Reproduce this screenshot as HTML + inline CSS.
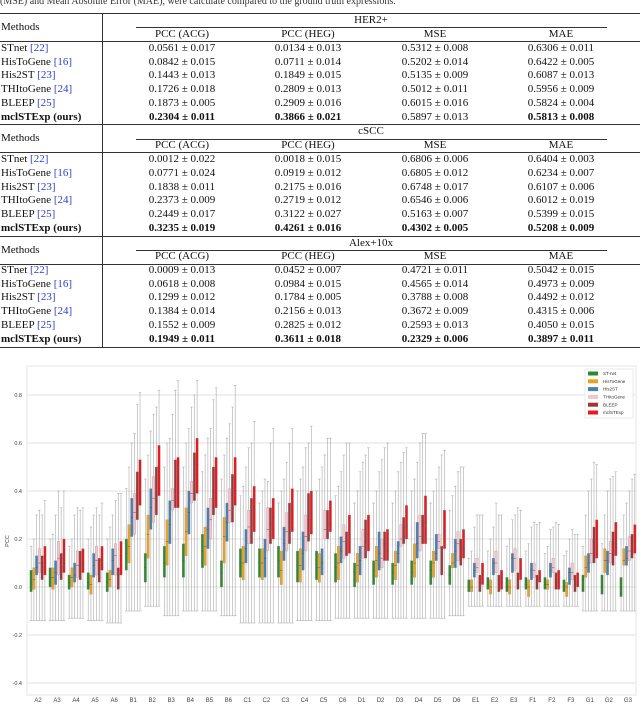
<!DOCTYPE html>
<html><head><meta charset="utf-8">
<style>
body{margin:0;width:640px;height:704px;overflow:hidden;background:#fff;font-family:"Liberation Serif",serif;color:#111;position:relative}
.a{position:absolute}
.cap{left:0;top:-4px;font-size:10px;white-space:nowrap;color:#333}
.rule{left:0;width:640px;background:#333;height:1px}
.row{position:absolute;left:0;width:640px;height:14px;line-height:14px;font-size:11px}
.row span{position:absolute;white-space:nowrap}
.m{left:1px}
.c{width:130px;text-align:center;margin-left:-65px}
.c1{left:182px}.c2{left:308px}.c3{left:435px}.c4{left:561px}
.b{font-weight:bold}
.ref{color:#2a3fd6}
</style></head><body>
<div class="a cap">(MSE) and Mean Absolute Error (MAE), were calculate compared to the ground truth expressions.</div>
<div>
<div class="a rule" style="top:13px;height:1.3px"></div>
<div class="a" style="left:102px;top:13px;width:1px;height:335px;background:#333"></div>
<!-- HER2+ -->
<div class="row" style="top:13px"><span class="m" style="top:7px">Methods</span><span class="c" style="left:371px">HER2+</span></div>
<div class="a" style="left:136px;top:27px;width:471px;height:0.8px;background:#333"></div>
<div class="row" style="top:27px"><span class="c c1">PCC (ACG)</span><span class="c c2">PCC (HEG)</span><span class="c c3">MSE</span><span class="c c4">MAE</span></div>
<div class="a rule" style="top:41px"></div>
<div class="row" style="top:41px"><span class="m">STnet <span class="ref" style="position:static">[22]</span></span><span class="c c1">0.0561 ± 0.017</span><span class="c c2">0.0134 ± 0.013</span><span class="c c3">0.5312 ± 0.008</span><span class="c c4">0.6306 ± 0.011</span></div>
<div class="row" style="top:55px"><span class="m">HisToGene <span class="ref" style="position:static">[16]</span></span><span class="c c1">0.0842 ± 0.015</span><span class="c c2">0.0711 ± 0.014</span><span class="c c3">0.5202 ± 0.014</span><span class="c c4">0.6422 ± 0.005</span></div>
<div class="row" style="top:68px"><span class="m">His2ST <span class="ref" style="position:static">[23]</span></span><span class="c c1">0.1443 ± 0.013</span><span class="c c2">0.1849 ± 0.015</span><span class="c c3">0.5135 ± 0.009</span><span class="c c4">0.6087 ± 0.013</span></div>
<div class="row" style="top:82px"><span class="m">THItoGene <span class="ref" style="position:static">[24]</span></span><span class="c c1">0.1726 ± 0.018</span><span class="c c2">0.2809 ± 0.013</span><span class="c c3">0.5012 ± 0.011</span><span class="c c4">0.5956 ± 0.009</span></div>
<div class="row" style="top:96px"><span class="m">BLEEP <span class="ref" style="position:static">[25]</span></span><span class="c c1">0.1873 ± 0.005</span><span class="c c2">0.2909 ± 0.016</span><span class="c c3">0.6015 ± 0.016</span><span class="c c4">0.5824 ± 0.004</span></div>
<div class="row" style="top:110px"><span class="m b">mclSTExp (ours)</span><span class="c c1 b">0.2304 ± 0.011</span><span class="c c2 b">0.3866 ± 0.021</span><span class="c c3">0.5897 ± 0.013</span><span class="c c4 b">0.5813 ± 0.008</span></div>
<div class="a rule" style="top:124px"></div>
<!-- cSCC -->
<div class="row" style="top:124px"><span class="m" style="top:7px">Methods</span><span class="c" style="left:371px">cSCC</span></div>
<div class="a" style="left:136px;top:139px;width:471px;height:0.8px;background:#333"></div>
<div class="row" style="top:138px"><span class="c c1">PCC (ACG)</span><span class="c c2">PCC (HEG)</span><span class="c c3">MSE</span><span class="c c4">MAE</span></div>
<div class="a rule" style="top:152px"></div>
<div class="row" style="top:152px"><span class="m">STnet <span class="ref" style="position:static">[22]</span></span><span class="c c1">0.0012 ± 0.022</span><span class="c c2">0.0018 ± 0.015</span><span class="c c3">0.6806 ± 0.006</span><span class="c c4">0.6404 ± 0.003</span></div>
<div class="row" style="top:166px"><span class="m">HisToGene <span class="ref" style="position:static">[16]</span></span><span class="c c1">0.0771 ± 0.024</span><span class="c c2">0.0919 ± 0.012</span><span class="c c3">0.6805 ± 0.012</span><span class="c c4">0.6234 ± 0.007</span></div>
<div class="row" style="top:180px"><span class="m">His2ST <span class="ref" style="position:static">[23]</span></span><span class="c c1">0.1838 ± 0.011</span><span class="c c2">0.2175 ± 0.016</span><span class="c c3">0.6748 ± 0.017</span><span class="c c4">0.6107 ± 0.006</span></div>
<div class="row" style="top:193px"><span class="m">THItoGene <span class="ref" style="position:static">[24]</span></span><span class="c c1">0.2373 ± 0.009</span><span class="c c2">0.2719 ± 0.012</span><span class="c c3">0.6546 ± 0.006</span><span class="c c4">0.6012 ± 0.019</span></div>
<div class="row" style="top:207px"><span class="m">BLEEP <span class="ref" style="position:static">[25]</span></span><span class="c c1">0.2449 ± 0.017</span><span class="c c2">0.3122 ± 0.027</span><span class="c c3">0.5163 ± 0.007</span><span class="c c4">0.5399 ± 0.015</span></div>
<div class="row" style="top:221px"><span class="m b">mclSTExp (ours)</span><span class="c c1 b">0.3235 ± 0.019</span><span class="c c2 b">0.4261 ± 0.016</span><span class="c c3 b">0.4302 ± 0.005</span><span class="c c4 b">0.5208 ± 0.009</span></div>
<div class="a rule" style="top:236px"></div>
<!-- Alex+10x -->
<div class="row" style="top:236px"><span class="m" style="top:7px">Methods</span><span class="c" style="left:371px">Alex+10x</span></div>
<div class="a" style="left:136px;top:250px;width:471px;height:0.8px;background:#333"></div>
<div class="row" style="top:249px"><span class="c c1">PCC (ACG)</span><span class="c c2">PCC (HEG)</span><span class="c c3">MSE</span><span class="c c4">MAE</span></div>
<div class="a rule" style="top:264px"></div>
<div class="row" style="top:263px"><span class="m">STnet <span class="ref" style="position:static">[22]</span></span><span class="c c1">0.0009 ± 0.013</span><span class="c c2">0.0452 ± 0.007</span><span class="c c3">0.4721 ± 0.011</span><span class="c c4">0.5042 ± 0.015</span></div>
<div class="row" style="top:277px"><span class="m">HisToGene <span class="ref" style="position:static">[16]</span></span><span class="c c1">0.0618 ± 0.008</span><span class="c c2">0.0984 ± 0.015</span><span class="c c3">0.4565 ± 0.014</span><span class="c c4">0.4973 ± 0.009</span></div>
<div class="row" style="top:290px"><span class="m">His2ST <span class="ref" style="position:static">[23]</span></span><span class="c c1">0.1299 ± 0.012</span><span class="c c2">0.1784 ± 0.005</span><span class="c c3">0.3788 ± 0.008</span><span class="c c4">0.4492 ± 0.012</span></div>
<div class="row" style="top:304px"><span class="m">THItoGene <span class="ref" style="position:static">[24]</span></span><span class="c c1">0.1384 ± 0.014</span><span class="c c2">0.2156 ± 0.013</span><span class="c c3">0.3672 ± 0.009</span><span class="c c4">0.4315 ± 0.006</span></div>
<div class="row" style="top:318px"><span class="m">BLEEP <span class="ref" style="position:static">[25]</span></span><span class="c c1">0.1552 ± 0.009</span><span class="c c2">0.2825 ± 0.012</span><span class="c c3">0.2593 ± 0.013</span><span class="c c4">0.4050 ± 0.015</span></div>
<div class="row" style="top:332px"><span class="m b">mclSTExp (ours)</span><span class="c c1 b">0.1949 ± 0.011</span><span class="c c2 b">0.3611 ± 0.018</span><span class="c c3 b">0.2329 ± 0.006</span><span class="c c4 b">0.3897 ± 0.011</span></div>
<div class="a rule" style="top:347px;height:1.3px"></div>
</div>

<svg class="a" style="left:0;top:0" width="640" height="704" id="chart" font-family="Liberation Sans, sans-serif"></svg>
<script>
const categories=["A2","A3","A4","A5","A6","B1","B2","B3","B4","B5","B6","C1","C2","C3","C4","C5","C6","D1","D2","D3","D4","D5","D6","E1","E2","E3","F1","F2","F3","G1","G2","G3"];
const seriesNames=["ST-net","HisToGene","His2ST","THItoGene","BLEEP","mclSTExp"];
const yTicks=[-0.4,-0.2,0.0,0.2,0.4,0.6,0.8];
const whiskerLo=[-0.14,-0.14,-0.13,-0.14,-0.15,-0.1,-0.08,-0.12,-0.1,-0.1,-0.12,-0.15,-0.15,-0.15,-0.14,-0.14,-0.13,-0.13,-0.13,-0.13,-0.13,-0.13,-0.12,-0.08,-0.08,-0.08,-0.08,-0.08,-0.08,-0.1,-0.1,-0.1];
// series 0: ST-net
const q1_0=[-0.02,0.0,-0.01,-0.01,-0.02,0.07,0.02,0.04,0.04,0.08,0.0,0.04,0.04,0.04,0.02,0.03,0.02,0.0,0.01,0.01,0.01,0.01,0.01,-0.02,-0.01,-0.02,-0.01,-0.01,-0.02,-0.02,-0.03,-0.04];
const med_0=[0.02,0.04,0.02,0.02,0.02,0.14,0.08,0.1,0.11,0.15,0.06,0.1,0.1,0.11,0.09,0.08,0.08,0.06,0.07,0.06,0.06,0.07,0.05,0.0,0.01,0.0,0.01,0.01,0.0,0.03,0.0,0.0];
const q3_0=[0.07,0.08,0.05,0.06,0.06,0.2,0.14,0.17,0.18,0.22,0.11,0.16,0.16,0.17,0.15,0.15,0.14,0.1,0.11,0.1,0.11,0.11,0.09,0.03,0.04,0.04,0.04,0.04,0.03,0.05,0.05,0.04];
const hi_0=[0.17,0.2,0.17,0.2,0.2,0.41,0.45,0.5,0.5,0.48,0.45,0.38,0.35,0.35,0.4,0.4,0.38,0.35,0.35,0.35,0.4,0.35,0.32,0.12,0.15,0.17,0.15,0.14,0.13,0.17,0.18,0.2];
// series 1: HisToGene
const q1_1=[-0.01,-0.01,0.0,-0.03,0.0,0.1,0.12,0.09,0.13,0.09,0.1,0.03,0.03,0.01,0.02,0.02,0.03,0.02,0.04,0.03,0.04,0.04,0.08,-0.02,-0.03,-0.03,-0.04,-0.01,-0.04,0.04,0.06,0.09];
const med_1=[0.03,0.04,0.04,0.01,0.03,0.17,0.22,0.19,0.23,0.17,0.21,0.1,0.1,0.07,0.09,0.08,0.1,0.09,0.11,0.09,0.1,0.1,0.1,0.0,0.0,0.0,0.0,0.01,0.0,0.08,0.11,0.11];
const q3_1=[0.08,0.08,0.08,0.05,0.07,0.26,0.3,0.28,0.33,0.25,0.29,0.17,0.16,0.15,0.16,0.14,0.17,0.14,0.17,0.15,0.18,0.15,0.14,0.03,0.03,0.03,0.03,0.03,0.02,0.13,0.16,0.16];
const hi_1=[0.2,0.22,0.2,0.25,0.25,0.5,0.55,0.6,0.6,0.55,0.55,0.42,0.4,0.4,0.45,0.45,0.42,0.4,0.4,0.4,0.45,0.4,0.38,0.15,0.2,0.2,0.18,0.17,0.15,0.3,0.3,0.3];
// series 2: His2ST
const q1_2=[0.05,0.01,0.02,0.04,0.05,0.21,0.24,0.18,0.22,0.16,0.19,0.1,0.04,0.11,0.07,0.05,0.1,0.05,0.07,0.1,0.12,0.11,0.08,0.04,0.05,0.06,0.03,0.04,0.01,0.06,0.05,0.09];
const med_2=[0.08,0.06,0.05,0.09,0.11,0.29,0.33,0.26,0.31,0.24,0.27,0.16,0.12,0.18,0.14,0.1,0.15,0.11,0.14,0.14,0.18,0.14,0.15,0.07,0.1,0.12,0.07,0.07,0.06,0.1,0.11,0.12];
const q3_2=[0.13,0.11,0.1,0.14,0.16,0.37,0.41,0.36,0.4,0.33,0.35,0.24,0.2,0.25,0.23,0.16,0.21,0.17,0.23,0.19,0.27,0.22,0.2,0.1,0.12,0.14,0.1,0.1,0.08,0.14,0.15,0.17];
const hi_2=[0.3,0.3,0.3,0.3,0.3,0.6,0.65,0.62,0.66,0.62,0.62,0.5,0.45,0.45,0.5,0.5,0.48,0.48,0.48,0.48,0.52,0.45,0.42,0.25,0.25,0.28,0.25,0.24,0.2,0.4,0.4,0.35];
// series 3: THItoGene
const q1_3=[0.06,0.05,0.04,0.05,0.05,0.22,0.27,0.32,0.35,0.2,0.27,0.18,0.15,0.15,0.15,0.2,0.12,0.12,0.08,0.17,0.15,0.16,0.11,0.06,0.06,0.07,0.04,0.06,0.03,0.1,0.1,0.11];
const med_3=[0.1,0.12,0.09,0.11,0.13,0.31,0.37,0.36,0.39,0.28,0.32,0.25,0.24,0.23,0.21,0.24,0.19,0.17,0.12,0.2,0.21,0.19,0.18,0.08,0.1,0.12,0.07,0.08,0.06,0.14,0.14,0.15];
const q3_3=[0.16,0.19,0.15,0.17,0.18,0.39,0.46,0.41,0.44,0.37,0.41,0.32,0.33,0.31,0.3,0.32,0.26,0.24,0.2,0.26,0.3,0.22,0.23,0.12,0.15,0.16,0.1,0.12,0.1,0.2,0.19,0.21];
const hi_3=[0.32,0.4,0.33,0.33,0.36,0.64,0.72,0.72,0.75,0.66,0.68,0.58,0.44,0.52,0.58,0.55,0.55,0.52,0.53,0.52,0.6,0.5,0.48,0.3,0.35,0.3,0.27,0.25,0.24,0.45,0.45,0.4];
// series 4: BLEEP
const q1_4=[0.03,0.03,0.03,0.02,-0.01,0.28,0.3,0.33,0.36,0.3,0.27,0.18,0.18,0.18,0.19,0.2,0.13,0.12,0.11,0.18,0.18,0.05,0.09,-0.02,-0.02,-0.01,-0.01,-0.01,-0.02,0.1,0.09,0.12];
const med_4=[0.08,0.08,0.09,0.06,0.05,0.37,0.39,0.42,0.47,0.4,0.38,0.27,0.26,0.27,0.28,0.26,0.2,0.19,0.18,0.21,0.26,0.1,0.17,0.02,0.03,0.03,0.02,0.02,0.01,0.19,0.15,0.15];
const q3_4=[0.13,0.14,0.15,0.12,0.08,0.48,0.5,0.53,0.56,0.5,0.47,0.37,0.33,0.35,0.39,0.32,0.23,0.28,0.23,0.29,0.3,0.17,0.2,0.05,0.05,0.06,0.05,0.06,0.05,0.25,0.23,0.22];
const hi_4=[0.3,0.33,0.32,0.3,0.39,0.76,0.75,0.82,0.8,0.78,0.75,0.6,0.6,0.6,0.6,0.62,0.6,0.55,0.58,0.56,0.64,0.55,0.5,0.3,0.3,0.33,0.26,0.27,0.22,0.52,0.46,0.45];
// series 5: mclSTExp
const q1_5=[0.05,0.06,0.06,0.07,0.05,0.34,0.38,0.33,0.39,0.33,0.34,0.23,0.2,0.23,0.22,0.23,0.14,0.15,0.11,0.2,0.18,0.16,0.12,0.01,-0.01,0.03,0.02,-0.01,0.0,0.12,0.13,0.14];
const med_5=[0.1,0.12,0.1,0.11,0.13,0.44,0.5,0.45,0.51,0.44,0.45,0.32,0.29,0.32,0.31,0.27,0.22,0.22,0.15,0.25,0.27,0.24,0.16,0.06,0.02,0.07,0.04,0.02,0.02,0.2,0.18,0.19];
const q3_5=[0.17,0.2,0.16,0.17,0.19,0.53,0.59,0.54,0.62,0.54,0.54,0.42,0.37,0.41,0.4,0.36,0.3,0.3,0.24,0.34,0.38,0.32,0.24,0.1,0.07,0.12,0.07,0.07,0.06,0.28,0.27,0.26];
const hi_5=[0.36,0.4,0.33,0.35,0.39,0.81,0.82,0.86,0.86,0.83,0.84,0.69,0.66,0.66,0.67,0.62,0.6,0.58,0.6,0.58,0.64,0.57,0.5,0.3,0.3,0.32,0.27,0.26,0.22,0.51,0.48,0.47];

const Q1=[q1_0,q1_1,q1_2,q1_3,q1_4,q1_5], MED=[med_0,med_1,med_2,med_3,med_4,med_5], Q3=[q3_0,q3_1,q3_2,q3_3,q3_4,q3_5], HI=[hi_0,hi_1,hi_2,hi_3,hi_4,hi_5];
const colors=["#2f8a2f","#e9a21f","#4a7fae","#f6c3cc","#a3353a","#e8191c"];
const NS="http://www.w3.org/2000/svg";
const svg=document.getElementById('chart');
const L=27,R=636,T=366,B=695;
function y(v){return 587-240*v;}
function x(i){return 38+19.03*i;}
function mk(tag,attrs,parent){const e=document.createElementNS(NS,tag);for(const k in attrs)e.setAttribute(k,attrs[k]);(parent||svg).appendChild(e);return e;}
const frame=mk('rect',{x:L,y:T,width:R-L,height:B-T,fill:'#fff',stroke:'#e6e6e6','stroke-width':1});


yTicks.forEach(t=>{
  const g=mk('line',{x1:L,x2:R,y1:y(t),y2:y(t),stroke:'#e8e8e8','stroke-width':1.2});
  
  
  const tx=mk('text',{x:22,y:y(t)+2,'font-size':5.5,fill:'#444','text-anchor':'end'});
  tx.textContent=t.toFixed(1);
  
  
});
const yt=mk('text',{x:9,y:541,'font-size':5.5,fill:'#444','text-anchor':'middle',transform:'rotate(-90 9 541)'});
yt.textContent='PCC';


categories.forEach((c,i)=>{
  const tx=mk('text',{x:x(i),y:702,'font-size':6,fill:'#444','text-anchor':'middle'});
  tx.textContent=c;
  
  
  for(let s=0;s<6;s++){
    const cx=x(i)+(s-2.5)*2.75, w=2.5;
    const g=mk('g',{});
    
    
    mk('line',{x1:cx,x2:cx,y1:y(HI[s][i]),y2:y(whiskerLo[i]),stroke:'#aaa','stroke-width':0.6},g);
    mk('line',{x1:cx-w/2,x2:cx+w/2,y1:y(HI[s][i]),y2:y(HI[s][i]),stroke:'#aaa','stroke-width':0.6},g);
    mk('line',{x1:cx-w/2,x2:cx+w/2,y1:y(whiskerLo[i]),y2:y(whiskerLo[i]),stroke:'#aaa','stroke-width':0.6},g);
    mk('rect',{x:cx-w/2,y:y(Q3[s][i]),width:w,height:y(Q1[s][i])-y(Q3[s][i]),fill:colors[s],stroke:'#999','stroke-width':0.3},g);
    mk('line',{x1:cx-w/2,x2:cx+w/2,y1:y(MED[s][i]),y2:y(MED[s][i]),stroke:'#555','stroke-width':0.5},g);
  }
});
const lg=mk('g',{});


mk('rect',{x:585,y:369,width:48,height:49,fill:'#fff',stroke:'#ddd','stroke-width':0.6},lg);
seriesNames.forEach((n,s)=>{
  const yy=373.5+s*7.8;
  const sw=mk('rect',{x:588,y:yy-2,width:10,height:4,fill:colors[s]},lg);
  
  
  const t=mk('text',{x:603,y:yy+1.6,'font-size':4.5,fill:'#333'},lg);
  t.textContent=n;
  
  
});
</script>
</body></html>
